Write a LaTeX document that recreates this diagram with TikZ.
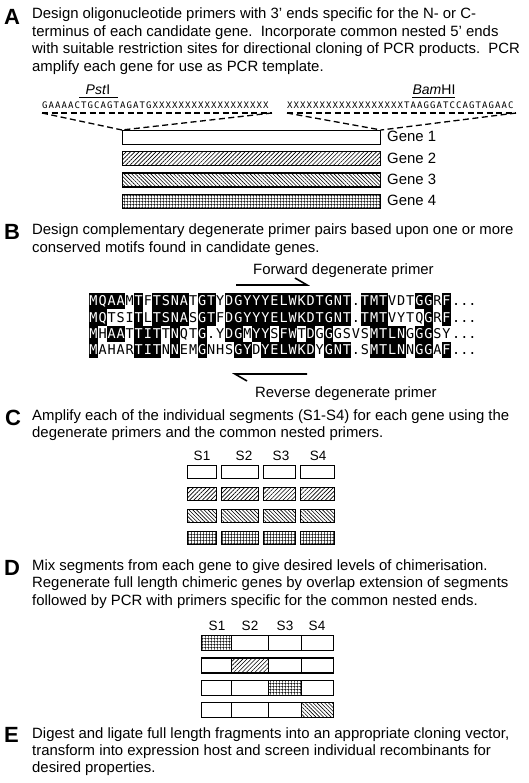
\documentclass[tikz,border=0pt]{standalone}
\usepackage{fontspec}
\setmainfont{Liberation Sans}
\newfontfamily\seqfont[LetterSpace=12]{DejaVu Sans Mono}
\newfontfamily\alnfont{DejaVu Sans Mono}
\usetikzlibrary{patterns.meta}
\tikzdeclarepattern{
  name=hgrid,
  bounding box={(0pt,0pt) and (2.8pt,2.8pt)},
  tile size={(2.8pt,2.8pt)},
  code={\draw[line width=0.6pt] (0pt,1.4pt) -- (2.8pt,1.4pt) (1.4pt,0pt) -- (1.4pt,2.8pt);}
}
\newcommand\alnrow[2]{%
  \foreach \ch/\fl [count=\i] in {#2} {%
    \pgfmathsetmacro\xl{89+(\i-1)*9.05}%
    \pgfmathsetmacro\yt{293+(#1-1)*16.3}%
    \ifnum\fl=1
      \fill[black] (\xl,\yt) rectangle ++(9.05,16.3);
      \node[alnch,text=white] (r#1c\i) at (\xl+4.525,\yt+12.7) {\ch};
    \else
      \node[alnch] (r#1c\i) at (\xl+4.525,\yt+12.7) {\ch};
    \fi
  }%
  \node[alnch,anchor=base west] (r#1dots) at (452,{293+(#1-1)*16.3+12.7}) {...};
}
\begin{document}
\begin{tikzpicture}[x=1pt,y=-1pt,
  txt/.style={anchor=base west,inner sep=0pt,font=\fontsize{14.9}{17}\selectfont},
  lbl/.style={anchor=base west,inner sep=0pt,font=\fontsize{22}{24}\selectfont\bfseries},
  seq/.style={anchor=base west,inner sep=0pt,font=\seqfont\fontsize{9}{10}\selectfont},
  enz/.style={anchor=base,inner sep=0pt,font=\fontsize{14}{16}\selectfont},
  slbl/.style={anchor=base,inner sep=0pt,font=\fontsize{13.5}{15}\selectfont},
  zoomline/.style={dash pattern=on 6pt off 3.5pt,line width=1.3pt},
  box/.style={draw,line width=1.2pt,inner sep=0pt,anchor=north west},
  pne/.style={pattern={Lines[angle=45,distance=3pt,line width=0.65pt]}},
  pnw/.style={pattern={Lines[angle=-45,distance=2.7pt,line width=0.6pt]}},
  pgr/.style={pattern=hgrid},
  alnch/.style={anchor=base,inner sep=0pt,font=\alnfont\fontsize{13.5}{13.5}\selectfont},
  harp/.style={line width=1.6pt},
  site/.style={line width=1pt},
]
\useasboundingbox (0,0) rectangle (528,783);
\fill[white] (0,0) rectangle (528,783);

% ---------- A ----------
\node[lbl] (lA) at (4,25) {A};
\node[txt] (tA1) at (32,19) {Design oligonucleotide primers with 3' ends specific for the N- or C-};
\node[txt] (tA2) at (32,36.5) {terminus of each candidate gene.\ \ Incorporate common nested 5' ends};
\node[txt] (tA3) at (32,54) {with suitable restriction sites for directional cloning of PCR products.\ \ PCR};
\node[txt] (tA4) at (32,71.5) {amplify each gene for use as PCR template.};

\node[enz] (pst) at (98,95) {\textit{Pst}I};
\coordinate (pstA) at (79,98); \coordinate (pstB) at (118,98);
\draw[site] (pstA) -- (pstB);
\node[enz] (bam) at (434,95) {\textit{Bam}HI};
\coordinate (bamA) at (412,98); \coordinate (bamB) at (455,98);
\draw[site] (bamA) -- (bamB);

\node[seq] (sL) at (42,109) {GAAAACTGCAGTAGATGXXXXXXXXXXXXXXXXXX};
\node[seq] (sR) at (287,109) {XXXXXXXXXXXXXXXXXXTAAGGATCCAGTAGAAC};

\node[box,fill=white,minimum width=258pt,minimum height=14pt] (g1) at (122,130) {};
\node[box,pne,minimum width=258pt,minimum height=14pt] (g2) at (122,151.3) {};
\node[box,pnw,minimum width=258pt,minimum height=14pt] (g3) at (122,172.7) {};
\node[box,pgr,minimum width=258pt,minimum height=14pt] (g4) at (122,194) {};
\node[txt] (gl1) at (387,142) {Gene 1};
\node[txt] (gl2) at (387,163.3) {Gene 2};
\node[txt] (gl3) at (387,184.7) {Gene 3};
\node[txt] (gl4) at (387,206) {Gene 4};

\coordinate (uL1) at (42,113); \coordinate (uL2) at (272,113);
\coordinate (uR1) at (287,113); \coordinate (uR2) at (516,113);
\draw[zoomline] (uL1) -- (uL2);
\draw[zoomline] (uL1) -- (g1.north west);
\draw[zoomline] (uL2) -- (g1.north west);
\draw[zoomline] (uR1) -- (uR2);
\draw[zoomline] (uR1) -- (g1.north east);
\draw[zoomline] (uR2) -- (g1.north east);

% ---------- B ----------
\node[lbl] (lB) at (4,240) {B};
\node[txt] (tB1) at (32,235) {Design complementary degenerate primer pairs based upon one or more};
\node[txt] (tB2) at (32,252.5) {conserved motifs found in candidate genes.};
\node[txt] (fwT) at (253,274) {Forward degenerate primer};
\coordinate (fwS) at (236,285); \coordinate (fwE) at (307,285);
\draw[harp] (fwS) -- (fwE) -- ++(-12,-7);

\alnrow{1}{M/1,Q/1,A/1,A/1,M/0,T/1,F/0,T/1,S/1,N/1,A/1,T/0,G/1,T/1,Y/0,D/1,G/1,Y/1,Y/1,Y/1,E/1,L/1,W/1,K/1,D/1,T/1,G/1,N/1,T/1,./0,T/1,M/1,T/1,V/0,D/0,T/0,G/1,G/1,R/0,F/1}
\alnrow{2}{M/1,Q/1,T/0,S/0,I/0,T/1,L/0,T/1,S/1,N/1,A/1,S/0,G/1,T/1,F/0,D/1,G/1,Y/1,Y/1,Y/1,E/1,L/1,W/1,K/1,D/1,T/1,G/1,N/1,T/1,./0,T/1,M/1,T/1,V/0,Y/0,T/0,Q/0,G/1,R/0,F/1}
\alnrow{3}{M/1,H/0,A/1,A/1,T/0,T/1,I/1,T/1,T/0,N/1,Q/0,T/0,G/1,./0,Y/0,D/1,G/1,M/0,Y/1,Y/1,S/0,F/1,W/1,T/0,D/1,G/0,G/1,G/0,S/0,V/0,S/0,M/1,T/1,L/1,N/1,G/0,G/1,G/1,S/0,Y/0}
\alnrow{4}{M/1,A/0,H/0,A/0,R/0,T/1,I/1,T/1,N/0,N/1,E/0,M/0,G/1,N/0,H/0,S/0,G/1,Y/1,D/0,Y/1,E/1,L/1,W/1,K/1,D/1,Y/0,G/1,N/1,T/1,./0,S/0,M/1,T/1,L/1,N/1,N/0,G/1,G/1,A/0,F/1}

\coordinate (rvS) at (307,374); \coordinate (rvE) at (235,374);
\draw[harp] (rvS) -- (rvE) -- ++(12,7);
\node[txt] (rvT) at (255,397) {Reverse degenerate primer};

% ---------- C ----------
\node[lbl] (lC) at (5,425) {C};
\node[txt] (tC1) at (32,420) {Amplify each of the individual segments (S1-S4) for each gene using the};
\node[txt] (tC2) at (32,437.5) {degenerate primers and the common nested primers.};
\node[slbl] (cs1) at (202,460) {S1};
\node[slbl] (cs2) at (244,460) {S2};
\node[slbl] (cs3) at (281,460) {S3};
\node[slbl] (cs4) at (318,460) {S4};
\foreach \xx/\ww [count=\k] in {187/29,221/37,263/32,300/34} {
  \node[box,fill=white,minimum width=\ww pt,minimum height=13pt] (c1\k) at (\xx,465) {};
  \node[box,pne,minimum width=\ww pt,minimum height=13pt] (c2\k) at (\xx,487) {};
  \node[box,pnw,minimum width=\ww pt,minimum height=13pt] (c3\k) at (\xx,509) {};
  \node[box,pgr,minimum width=\ww pt,minimum height=13pt] (c4\k) at (\xx,531) {};
}

% ---------- D ----------
\node[lbl] (lD) at (4,575) {D};
\node[txt] (tD1) at (32,570) {Mix segments from each gene to give desired levels of chimerisation.};
\node[txt] (tD2) at (32,587.5) {Regenerate full length chimeric genes by overlap extension of segments};
\node[txt] (tD3) at (32,605) {followed by PCR with primers specific for the common nested ends.};
\node[slbl] (ds1) at (217,630) {S1};
\node[slbl] (ds2) at (250,630) {S2};
\node[slbl] (ds3) at (285,630) {S3};
\node[slbl] (ds4) at (317,630) {S4};
\foreach \xx/\ww [count=\k] in {201/30,231/37,268/33,301/32} {
  \ifnum\k=1 \node[box,pgr,minimum width=\ww pt,minimum height=15pt] (d1\k) at (\xx,635) {};
  \else \node[box,fill=white,minimum width=\ww pt,minimum height=15pt] (d1\k) at (\xx,635) {}; \fi
  \ifnum\k=2 \node[box,pne,minimum width=\ww pt,minimum height=15pt] (d2\k) at (\xx,657.3) {};
  \else \node[box,fill=white,minimum width=\ww pt,minimum height=15pt] (d2\k) at (\xx,657.3) {}; \fi
  \ifnum\k=3 \node[box,pgr,minimum width=\ww pt,minimum height=15pt] (d3\k) at (\xx,679.7) {};
  \else \node[box,fill=white,minimum width=\ww pt,minimum height=15pt] (d3\k) at (\xx,679.7) {}; \fi
  \ifnum\k=4 \node[box,pnw,minimum width=\ww pt,minimum height=15pt] (d4\k) at (\xx,702) {};
  \else \node[box,fill=white,minimum width=\ww pt,minimum height=15pt] (d4\k) at (\xx,702) {}; \fi
}

% ---------- E ----------
\node[lbl] (lE) at (4,742) {E};
\node[txt] (tE1) at (32,738) {Digest and ligate full length fragments into an appropriate cloning vector,};
\node[txt] (tE2) at (32,755) {transform into expression host and screen individual recombinants for};
\node[txt] (tE3) at (32,772) {desired properties.};
\end{tikzpicture}
\end{document}
